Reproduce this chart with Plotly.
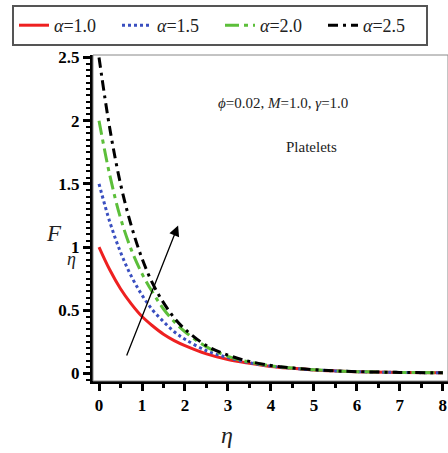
import plotly.graph_objects as go

eta = [0, 0.25, 0.5, 0.75, 1, 1.25, 1.5, 1.75, 2, 2.5, 3, 3.5, 4, 4.5, 5, 5.5, 6, 7, 8]
f_a10 = [1.00, 0.82, 0.67, 0.55, 0.45, 0.375, 0.31, 0.26, 0.22, 0.155, 0.11, 0.08, 0.055, 0.04, 0.028, 0.02, 0.014, 0.008, 0.005]
f_a15 = [1.50, 1.20, 0.96, 0.77, 0.62, 0.50, 0.41, 0.33, 0.27, 0.18, 0.125, 0.085, 0.058, 0.04, 0.028, 0.02, 0.014, 0.008, 0.005]
f_a20 = [2.00, 1.57, 1.23, 0.98, 0.79, 0.64, 0.51, 0.41, 0.33, 0.21, 0.135, 0.09, 0.06, 0.042, 0.029, 0.02, 0.014, 0.008, 0.005]
f_a25 = [2.50, 1.94, 1.50, 1.17, 0.91, 0.71, 0.56, 0.44, 0.35, 0.22, 0.145, 0.095, 0.063, 0.043, 0.03, 0.02, 0.014, 0.008, 0.005]
labels = ["<i>α</i>=1.0", "<i>α</i>=1.5", "<i>α</i>=2.0", "<i>α</i>=2.5"]

series = [f_a10, f_a15, f_a20, f_a25]
colors = ["#ee2020", "#3a4fc0", "#5cbf3a", "#000000"]
dashes = ["solid", "dot", "14px,5px,4px,5px", "10px,5px,3px,5px"]

W, H = 448, 453
ML, MR, MT, MB = 93, 0, 55, 72
plot_w = W - ML - MR
plot_h = H - MT - MB

def px_x(p):
    return (p - ML) / plot_w

def px_y(p):
    return (H - MB - p) / plot_h

fig = go.Figure()
for ys, lab, c, d in zip(series, labels, colors, dashes):
    fig.add_trace(go.Scatter(x=eta, y=ys, mode="lines", name=lab,
                             line=dict(color=c, width=3, dash=d, shape="spline")))

serif = "Liberation Serif"
fig.update_layout(
    width=W, height=H,
    margin=dict(l=ML, r=MR, t=MT, b=MB),
    paper_bgcolor="white", plot_bgcolor="white",
    showlegend=True,
    legend=dict(orientation="h", xref="paper", yref="paper",
                x=px_x(12), xanchor="left", y=px_y(5), yanchor="top",
                bgcolor="white", bordercolor="#555555", borderwidth=2,
                font=dict(family=serif, size=18, color="#222"),
                tracegroupgap=0, itemwidth=30,
                entrywidth=58, entrywidthmode="pixels"),
    xaxis=dict(range=[-0.14, 8.12], tickmode="array", tickvals=[0, 1, 2, 3, 4, 5, 6, 7, 8],
               showgrid=False, zeroline=False, showline=True, linecolor="black", linewidth=3,
               ticks="outside", ticklen=7, tickwidth=3, tickcolor="black",
               minor=dict(dtick=0.5, ticks="outside", ticklen=4, tickwidth=3, tickcolor="black"),
               tickfont=dict(family=serif, size=17, color="black", weight="bold")),
    yaxis=dict(range=[-0.06, 2.52], tickmode="array", tickvals=[0, 0.5, 1, 1.5, 2, 2.5],
               showgrid=False, zeroline=False, showline=True, linecolor="black", linewidth=3,
               ticks="outside", ticklen=7, tickwidth=3, tickcolor="black",
               minor=dict(dtick=0.05, ticks="outside", ticklen=4, tickwidth=2, tickcolor="black"),
               tickfont=dict(family=serif, size=17, color="black", weight="bold")),
)

fig.add_shape(type="rect", xref="paper", yref="paper", x0=0, x1=1, y0=0, y1=1,
              line=dict(color="#888888", width=1))

fig.add_annotation(x=1.84, y=1.17, ax=0.63, ay=0.13, xref="x", yref="y", axref="x", ayref="y",
                   showarrow=True, arrowhead=2, arrowsize=1.6, arrowwidth=1.3, arrowcolor="black", text="")
fig.add_annotation(x=4.28, y=2.14, xref="x", yref="y", showarrow=False,
                   text="<i>ϕ</i>=0.02, <i>M</i>=1.0, <i>γ</i>=1.0",
                   font=dict(family=serif, size=15, color="#222"))
fig.add_annotation(x=4.95, y=1.79, xref="x", yref="y", showarrow=False, text="Platelets",
                   font=dict(family=serif, size=15, color="#222"))
fig.add_annotation(x=px_x(54), y=px_y(233), xref="paper", yref="paper", showarrow=False,
                   xanchor="center", yanchor="middle",
                   text="<i>F</i>", font=dict(family=serif, size=23, color="#222"))
fig.add_annotation(x=px_x(71), y=px_y(259), xref="paper", yref="paper", showarrow=False,
                   xanchor="center", yanchor="middle",
                   text="<i>η</i>", font=dict(family=serif, size=18, color="#222"))
fig.add_annotation(x=px_x(227), y=px_y(435), xref="paper", yref="paper", showarrow=False,
                   xanchor="center", yanchor="middle",
                   text="<i>η</i>", font=dict(family=serif, size=24, color="#222"))

fig.write_html("out.html")
